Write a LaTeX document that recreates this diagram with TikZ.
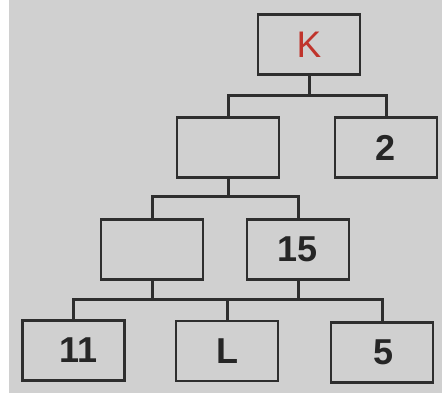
\documentclass[tikz,border=0pt]{standalone}
\usepackage{fontspec}
\setmainfont{Liberation Sans}
\definecolor{bg}{HTML}{D0D0D0}
\definecolor{ln}{HTML}{2E2E2E}
\definecolor{kred}{HTML}{C0342C}
\begin{document}
\begin{tikzpicture}[x=1pt,y=-1pt,
  box/.style={draw=ln,line width=2.6pt,fill=bg,rectangle,minimum width=102pt,minimum height=60pt,inner sep=0pt,
    font=\fontsize{36}{36}\selectfont\bfseries,text=black!85},
  conn/.style={draw=ln,line width=3pt}]
\useasboundingbox (0,0) rectangle (442,398);
\fill[white] (0,0) rectangle (442,398);
\fill[bg] (9,0) rectangle (442,393);
\node[box,font=\fontsize{37}{37}\selectfont,text=kred] (K) at (309,44.5) {K};
\node[box] (E1) at (228,147.5) {};
\node[box] (B2) at (386,147.5) {2};
\node[box] (E2) at (152,249.5) {};
\node[box] (B15) at (298,249.5) {15};
\node[box] (B11) at (73.5,350.5) {\hspace*{10pt}11};
\node[box] (L) at (227,351) {L};
\node[box] (B5) at (382,352.5) {\hspace*{4pt}5};
\coordinate (h1) at (0,96);
\coordinate (h2) at (0,197);
\coordinate (h3) at (0,300);
\draw[conn] (K.south) -- (K.south |- h1);
\draw[conn] (E1.north) -- (E1.north |- h1) -- (B2.north |- h1) -- (B2.north);
\draw[conn] (E1.south) -- (E1.south |- h2);
\draw[conn] (E2.north) -- (E2.north |- h2) -- (B15.north |- h2) -- (B15.north);
\draw[conn] (E2.south) -- (E2.south |- h3);
\draw[conn] (B15.south) -- (B15.south |- h3);
\draw[conn] (B11.north) -- (B11.north |- h3) -- (B5.north |- h3) -- (B5.north);
\draw[conn] (L.north) -- (L.north |- h3);
\end{tikzpicture}
\end{document}
